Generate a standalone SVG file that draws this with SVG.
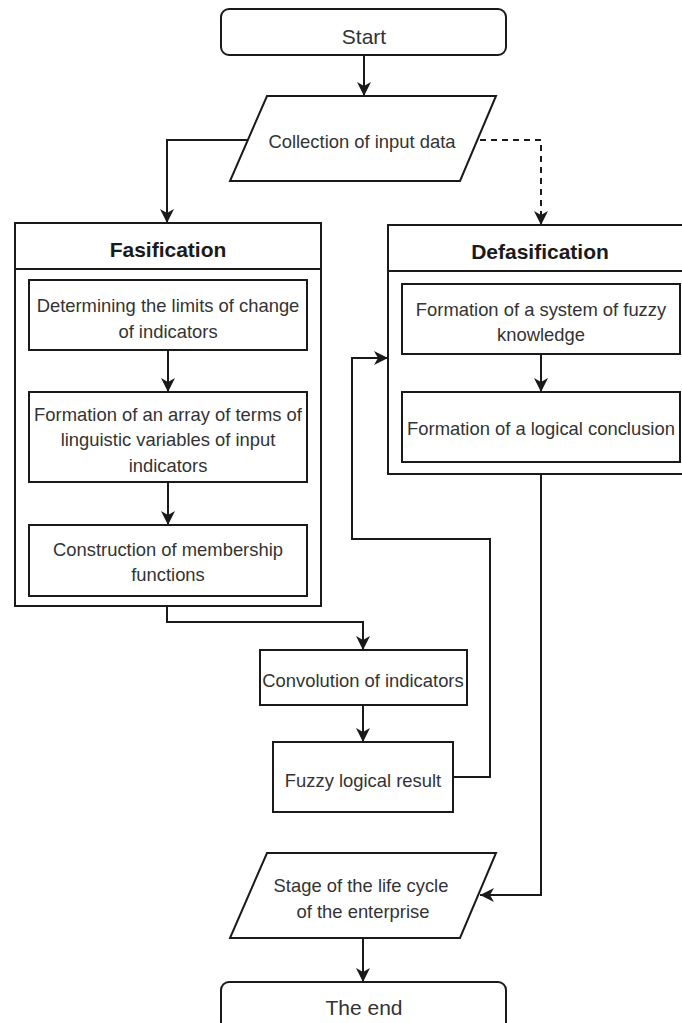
<svg xmlns="http://www.w3.org/2000/svg" width="682" height="1023" viewBox="0 0 682 1023">
<style>
.s{fill:#fff;stroke:#1a1a1a;stroke-width:2}
.t{font-family:"Liberation Sans",Arial,sans-serif;font-size:18.4px;fill:#333;text-anchor:middle}
.tl{font-family:"Liberation Sans",Arial,sans-serif;font-size:21px;fill:#333;text-anchor:middle}
.tb{font-family:"Liberation Sans",Arial,sans-serif;font-size:21px;font-weight:bold;fill:#1a1a1a;text-anchor:middle}
.c{fill:none;stroke:#1a1a1a;stroke-width:2}
.d{fill:none;stroke:#1a1a1a;stroke-width:2;stroke-dasharray:6 5}
</style>
<defs>
<marker id="a" markerUnits="userSpaceOnUse" markerWidth="16" markerHeight="16" viewBox="0 0 16 16" refX="15" refY="8" orient="auto">
<path d="M1,1 L15,8 L1,15 L5,8 z" fill="#1a1a1a"/>
</marker>
</defs>
<g id="start"><rect class="s" x="221" y="9" width="285" height="46" rx="8"/><text class="tl" x="364" y="43.5">Start</text></g>
<g id="input"><path class="s" d="M267,96 L496,96 L460,181 L230,181 Z"/><text class="t" x="362" y="147.5">Collection of input data</text></g>
<g id="fasification">
<rect class="s" x="15" y="223" width="306" height="383"/><line class="c" x1="15" y1="269" x2="321" y2="269"/>
<text class="tb" x="168" y="256.5">Fasification</text>
</g>
<g id="limits"><rect class="s" x="29" y="280" width="278" height="70"/><text class="t" x="168" y="311.5">Determining the limits of change</text><text class="t" x="168" y="337.5">of indicators</text></g>
<g id="terms"><rect class="s" x="29" y="392" width="278" height="90"/><text class="t" x="168" y="420.5">Formation of an array of terms of</text><text class="t" x="168" y="445.5">linguistic variables of input</text><text class="t" x="168" y="471.5">indicators</text></g>
<g id="membership"><rect class="s" x="29" y="525" width="278" height="71"/><text class="t" x="168" y="555.5">Construction of membership</text><text class="t" x="168" y="580.5">functions</text></g>
<g id="defasification">
<rect class="s" x="388" y="225" width="310" height="249"/><line class="c" x1="388" y1="271" x2="698" y2="271"/>
<text class="tb" x="540" y="258.5">Defasification</text>
</g>
<g id="knowledge"><rect class="s" x="402" y="284" width="278" height="70"/><text class="t" x="541" y="315.5">Formation of a system of fuzzy</text><text class="t" x="541" y="340.5">knowledge</text></g>
<g id="conclusion"><rect class="s" x="402" y="392" width="278" height="70"/><text class="t" x="541" y="434.5">Formation of a logical conclusion</text></g>
<g id="convolution"><rect class="s" x="260" y="650" width="207" height="55"/><text class="t" x="363" y="686.5">Convolution of indicators</text></g>
<g id="fuzzy"><rect class="s" x="273" y="742" width="180" height="70"/><text class="t" x="363" y="786.5">Fuzzy logical result</text></g>
<g id="stage"><path class="s" d="M267,853 L496,853 L460,938 L230,938 Z"/><text class="t" x="361" y="891.5">Stage of the life cycle</text><text class="t" x="363" y="917.5">of the enterprise</text></g>
<g id="end"><rect class="s" x="221" y="982" width="285" height="60" rx="8"/><text class="tl" x="364" y="1014.5">The end</text></g>
<g id="connectors">
<path class="c" d="M364,55 L364,96" marker-end="url(#a)"/>
<path class="c" d="M248,140 L167,140 L167,223" marker-end="url(#a)"/>
<path class="d" d="M480,140 L541,140 L541,225" marker-end="url(#a)"/>
<path class="c" d="M168,350 L168,392" marker-end="url(#a)"/>
<path class="c" d="M168,482 L168,525" marker-end="url(#a)"/>
<path class="c" d="M541,354 L541,392" marker-end="url(#a)"/>
<path class="c" d="M167,606 L167,622 L363,622 L363,650" marker-end="url(#a)"/>
<path class="c" d="M363,705 L363,742" marker-end="url(#a)"/>
<path class="c" d="M453,777 L490,777 L490,539 L352,539 L352,358 L388,358" marker-end="url(#a)"/>
<path class="c" d="M541,474 L541,895 L480,895" marker-end="url(#a)"/>
<path class="c" d="M363,938 L363,982" marker-end="url(#a)"/>
</g>
</svg>
